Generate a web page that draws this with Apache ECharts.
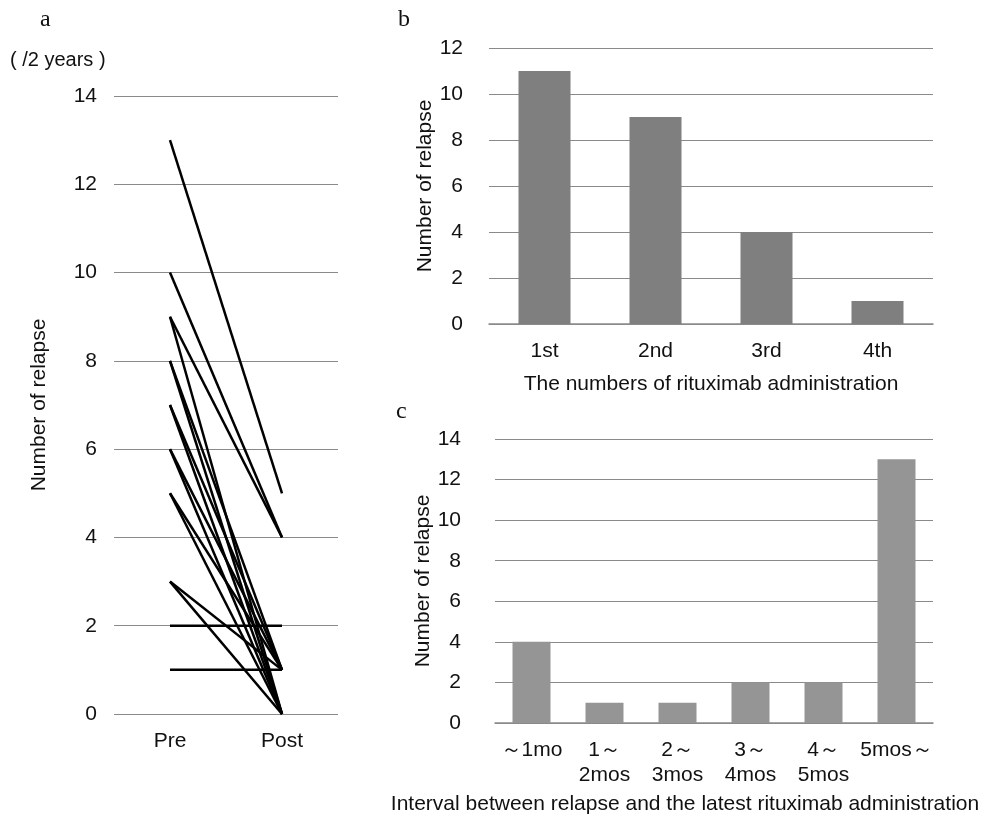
<!DOCTYPE html>
<html>
<head>
<meta charset="utf-8">
<script src="https://cdn.jsdelivr.net/npm/echarts@6/dist/echarts.min.js"></script>
<style>
  html, body { margin: 0; padding: 0; background: #fff; }
  #main { width: 991px; height: 818px; }
</style>
</head>
<body>
<div id="main"></div>
<script>
// panel a: relapses per 2 years, before and after rituximab (one line per patient)
const periods = ['Pre', 'Post'];
const preRelapse  = [13, 10, 9, 9, 8, 8, 7, 7, 6, 6, 5, 5, 3, 3, 2, 1];
const postRelapse = [5, 4, 4, 0, 1, 0, 1, 0, 1, 0, 1, 0, 1, 0, 2, 1];

// panel b: relapses by number of rituximab administrations
const doseLabels = ['1st', '2nd', '3rd', '4th'];
const doseRelapse = [11, 9, 4, 1];

// panel c: interval between relapse and latest administration
const intervalLabels = ['～1mo', '1～\n2mos', '2～\n3mos', '3～\n4mos', '4～\n5mos', '5mos～'];
const intervalRelapse = [4, 1, 1, 2, 2, 13];

const font = 'Liberation Sans, Arial, sans-serif';
const fs = 21;
const gridLine = { show: true, lineStyle: { color: '#8a8a8a', width: 1 } };

const chart = echarts.init(document.getElementById('main'));

const lineSeries = preRelapse.map((p, i) => ({
  type: 'line',
  xAxisIndex: 0,
  yAxisIndex: 0,
  data: [p, postRelapse[i]],
  symbol: 'none',
  lineStyle: { color: '#000', width: 2.5 },
  z: 3
}));

function valueAxis(gridIndex, max, gap, margin) {
  return {
    type: 'value',
    gridIndex: gridIndex,
    min: 0,
    max: max,
    interval: 2,
    name: 'Number of relapse',
    nameLocation: 'middle',
    nameRotate: 90,
    nameGap: gap,
    nameTextStyle: { fontFamily: font, fontSize: fs, color: '#111' },
    axisLine: { show: false },
    axisTick: { show: false },
    axisLabel: { fontFamily: font, fontSize: fs, color: '#111', margin: margin },
    splitLine: gridLine
  };
}

function catAxis(gridIndex, data, extra) {
  return Object.assign({
    type: 'category',
    gridIndex: gridIndex,
    data: data,
    axisLine: { show: true, lineStyle: { color: '#8a8a8a', width: 1.5 } },
    axisTick: { show: false },
    axisLabel: { fontFamily: font, fontSize: fs, color: '#111', margin: 15, lineHeight: 25, interval: 0 }
  }, extra || {});
}

chart.setOption({
  animation: false,
  backgroundColor: '#fff',
  graphic: [
    { type: 'text', left: 40, top: 8, style: { text: 'a', font: '24px "Liberation Serif", serif', fill: '#111' } },
    { type: 'text', left: 398, top: 8, style: { text: 'b', font: '24px "Liberation Serif", serif', fill: '#111' } },
    { type: 'text', left: 396, top: 400, style: { text: 'c', font: '24px "Liberation Serif", serif', fill: '#111' } },
    { type: 'text', left: 10, top: 50, style: { text: '( /2 years )', font: '20px "Liberation Sans", Arial, sans-serif', fill: '#111' } }
  ],
  grid: [
    { left: 114, top: 96, width: 224, height: 618, outerBoundsMode: 'none' },
    { left: 489, top: 48, width: 444, height: 276, outerBoundsMode: 'none' },
    { left: 495, top: 439, width: 438, height: 284, outerBoundsMode: 'none' }
  ],
  xAxis: [
    catAxis(0, periods, { axisLine: { show: false } }),
    catAxis(1, doseLabels, {
      name: 'The numbers of rituximab administration',
      nameLocation: 'middle',
      nameGap: 50,
      nameTextStyle: { fontFamily: font, fontSize: fs, color: '#111' }
    }),
    catAxis(2, intervalLabels, {
      name: 'Interval between relapse and the latest rituximab administration',
      nameLocation: 'middle',
      nameGap: 71,
      nameTextStyle: { fontFamily: font, fontSize: 21, color: '#111', padding: [0, 58, 0, 0] }
    })
  ],
  yAxis: [
    valueAxis(0, 14, 64, 17),
    valueAxis(1, 12, 46, 26),
    valueAxis(2, 14, 50, 34)
  ],
  series: lineSeries.concat([
    {
      type: 'bar',
      xAxisIndex: 1,
      yAxisIndex: 1,
      data: doseRelapse,
      barWidth: 52,
      itemStyle: { color: '#7f7f7f' }
    },
    {
      type: 'bar',
      xAxisIndex: 2,
      yAxisIndex: 2,
      data: intervalRelapse,
      barWidth: 38,
      itemStyle: { color: '#959595' }
    }
  ])
});
</script>
</body>
</html>
